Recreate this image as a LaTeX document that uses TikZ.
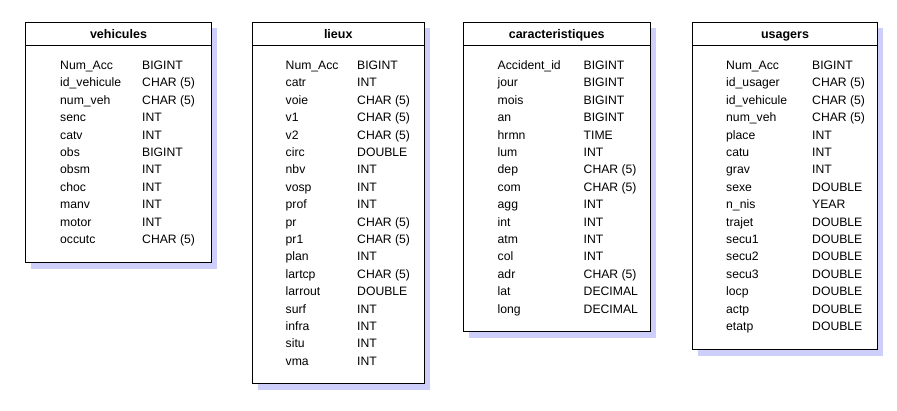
\documentclass[tikz,border=0pt]{standalone}
\usepackage{fontspec}
\setmainfont{Liberation Sans}
\definecolor{shadowblue}{RGB}{206,206,250}
\tikzset{
  tablebox/.style={draw=black, line width=1pt, fill=white},
  tableshadow/.style={fill=shadowblue, draw=none},
  headtext/.style={font=\fontsize{12.5}{14}\selectfont\bfseries, anchor=base, inner sep=0pt},
  cell/.style={font=\fontsize{12.2}{14}\selectfont, anchor=base west, inner sep=0pt},
}
% #1 id, #2 left, #3 right, #4 bottom, #5 title, #6 name column x, #7 type column x, #8 rows
\newcommand\dbtable[8]{%
  \fill[tableshadow] ({#2+5.5},28) rectangle ({#3+5.5},{#4+6.5});
  \draw[tablebox] (#2,22.5) rectangle (#3,#4);
  \draw[line width=1pt] (#2,45.5) -- (#3,45.5);
  \node[headtext] (#1-title) at ({(#2+#3)/2},38) {#5};
  \foreach \fname/\ftype [count=\i] in {#8} {
    \node[cell] (#1-n\i) at (#6,{69.5+17.4*(\i-1)}) {\fname};
    \node[cell] (#1-t\i) at (#7,{69.5+17.4*(\i-1)}) {\ftype};
  }%
}
\begin{document}
\begin{tikzpicture}[x=1pt,y=-1pt]
  \useasboundingbox[fill=white] (0,0) rectangle (897,410);
  \dbtable{veh}{25.5}{211.5}{262.5}{vehicules}{60}{142}{%
    Num\_Acc/BIGINT, id\_vehicule/CHAR (5), num\_veh/CHAR (5), senc/INT,
    catv/INT, obs/BIGINT, obsm/INT, choc/INT, manv/INT, motor/INT,
    occutc/CHAR (5)}
  \dbtable{lieux}{252.5}{424}{383}{lieux}{285.5}{357}{%
    Num\_Acc/BIGINT, catr/INT, voie/CHAR (5), v1/CHAR (5), v2/CHAR (5),
    circ/DOUBLE, nbv/INT, vosp/INT, prof/INT, pr/CHAR (5), pr1/CHAR (5),
    plan/INT, lartcp/CHAR (5), larrout/DOUBLE, surf/INT, infra/INT,
    situ/INT, vma/INT}
  \dbtable{carac}{463.5}{650}{331}{caracteristiques}{497.5}{583.5}{%
    Accident\_id/BIGINT, jour/BIGINT, mois/BIGINT, an/BIGINT, hrmn/TIME,
    lum/INT, dep/CHAR (5), com/CHAR (5), agg/INT, int/INT, atm/INT,
    col/INT, adr/CHAR (5), lat/DECIMAL, long/DECIMAL}
  \dbtable{usag}{692.5}{877.5}{349}{usagers}{726}{812}{%
    Num\_Acc/BIGINT, id\_usager/CHAR (5), id\_vehicule/CHAR (5),
    num\_veh/CHAR (5), place/INT, catu/INT, grav/INT, sexe/DOUBLE,
    n\_nis/YEAR, trajet/DOUBLE, secu1/DOUBLE, secu2/DOUBLE, secu3/DOUBLE,
    locp/DOUBLE, actp/DOUBLE, etatp/DOUBLE}
\end{tikzpicture}
\end{document}
